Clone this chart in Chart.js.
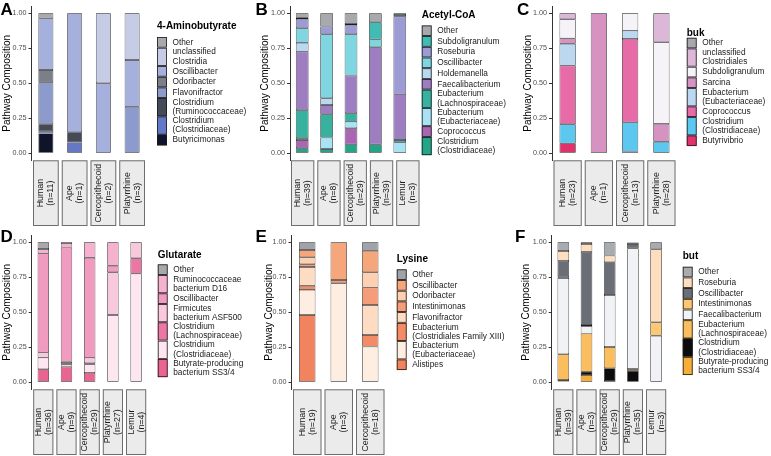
<!DOCTYPE html>
<html>
<head>
<meta charset="utf-8">
<script src="https://cdn.jsdelivr.net/npm/chart.js@4.4.1/dist/chart.umd.min.js"></script>
<style>
  html, body { margin: 0; padding: 0; background: #fff; }
  #wrap { position: relative; width: 771px; height: 456px; overflow: hidden; }
  canvas { position: absolute; }
</style>
</head>
<body>
<div id="wrap">
  <canvas id="pA" width="255" height="228" style="left:0;top:0"></canvas>
  <canvas id="pB" width="255" height="228" style="left:255px;top:0"></canvas>
  <canvas id="pC" width="261" height="228" style="left:510px;top:0"></canvas>
  <canvas id="pD" width="255" height="231" style="left:0;top:225px"></canvas>
  <canvas id="pE" width="255" height="231" style="left:255px;top:225px"></canvas>
  <canvas id="pF" width="261" height="231" style="left:510px;top:225px"></canvas>
</div>
<script>
// ---- data ----
const yTicks = [0, 0.25, 0.5, 0.75, 1];

// A: 4-Aminobutyrate
const aCategories = ['Human', 'Ape', 'Cercopithecoid', 'Platyrrhine'];
const aCounts = ['(n=11)', '(n=1)', '(n=2)', '(n=3)'];
const aSeries = ['Other', 'unclassified\nClostridia', 'Oscillibacter', 'Odoribacter', 'Flavonifractor',
  'Clostridium\n(Ruminococcaceae)', 'Clostridium\n(Clostridiaceae)', 'Butyricimonas'];
const aValues = [
  [0.036, 0, 0, 0],
  [0, 0, 0.5, 0.334],
  [0.369, 0.85, 0.5, 0.333],
  [0.088, 0, 0, 0],
  [0.30, 0, 0, 0.333],
  [0.05, 0.072, 0, 0],
  [0.015, 0.078, 0, 0],
  [0.142, 0, 0, 0]
];

// B: Acetyl-CoA
const bCategories = ['Human', 'Ape', 'Cercopithecoid', 'Platyrrhine', 'Lemur'];
const bCounts = ['(n=39)', '(n=8)', '(n=29)', '(n=39)', '(n=3)'];
const bSeries = ['Other', 'Subdoligranulum', 'Roseburia', 'Oscillibacter', 'Holdemanella', 'Faecalibacterium',
  'Eubacterium\n(Lachnospiraceae)', 'Eubacterium\n(Eubacteriaceae)', 'Coprococcus', 'Clostridium\n(Clostridiaceae)'];
const bValues = [
  [0.031, 0.095, 0.076, 0.064, 0.012],
  [0.009, 0, 0.007, 0.122, 0.012],
  [0.067, 0.055, 0.067, 0, 0.555],
  [0.103, 0.457, 0.295, 0.057, 0],
  [0.064, 0.048, 0, 0, 0],
  [0.419, 0.066, 0.269, 0.693, 0.326],
  [0.2, 0.167, 0.06, 0, 0.016],
  [0.012, 0.081, 0.047, 0, 0.079],
  [0.059, 0, 0.115, 0, 0],
  [0.036, 0.031, 0.064, 0.064, 0]
];

// C: buk
const cCategories = ['Human', 'Ape', 'Cercopithecoid', 'Platyrrhine'];
const cCounts = ['(n=23)', '(n=1)', '(n=13)', '(n=28)'];
const cSeries = ['Other', 'unclassified\nClostridiales', 'Subdoligranulum', 'Sarcina',
  'Eubacterium\n(Eubacteriaceae)', 'Coprococcus', 'Clostridium\n(Clostridiaceae)', 'Butyrivibrio'];
const cValues = [
  [0, 0, 0, 0],
  [0.043, 0, 0, 0.207],
  [0.136, 0, 0.124, 0.583],
  [0.038, 1, 0, 0.127],
  [0.157, 0, 0.059, 0],
  [0.419, 0, 0.596, 0],
  [0.136, 0, 0.209, 0.083],
  [0.071, 0, 0.012, 0]
];

// D: Glutarate
const dCategories = ['Human', 'Ape', 'Cercopithecoid', 'Platyrrhine', 'Lemur'];
const dCounts = ['(n=36)', '(n=9)', '(n=29)', '(n=27)', '(n=4)'];
const dSeries = ['Other', 'Ruminococcaceae\nbacterium D16', 'Oscillibacter', 'Firmicutes\nbacterium ASF500',
  'Clostridium\n(Lachnospiraceae)', 'Clostridium\n(Clostridiaceae)', 'Butyrate-producing\nbacterium SS3/4'];
const dValues = [
  [0.048, 0.005, 0, 0, 0],
  [0.031, 0.033, 0.11, 0.167, 0],
  [0.707, 0.814, 0.714, 0.047, 0],
  [0.038, 0.012, 0.04, 0.305, 0.114],
  [0, 0.01, 0.007, 0, 0.11],
  [0.083, 0.014, 0.062, 0.481, 0.776],
  [0.093, 0.112, 0.067, 0, 0]
];

// E: Lysine
const eCategories = ['Human', 'Ape', 'Cercopithecoid'];
const eCounts = ['(n=19)', '(n=3)', '(n=18)'];
const eSeries = ['Other', 'Oscillibacter', 'Odoribacter', 'Intestinimonas', 'Flavonifractor',
  'Eubacterium\n(Clostridiales Family XIII)', 'Eubacterium\n(Eubacteriaceae)', 'Alistipes'];
const eValues = [
  [0.055, 0, 0.06],
  [0.052, 0.269, 0.154],
  [0.05, 0, 0.11],
  [0.019, 0.024, 0.124],
  [0.134, 0, 0.214],
  [0.03, 0, 0.083],
  [0.179, 0.707, 0.255],
  [0.481, 0, 0]
];

// F: but
const fCategories = ['Human', 'Ape', 'Cercopithecoid', 'Platyrrhine', 'Lemur'];
const fCounts = ['(n=39)', '(n=3)', '(n=29)', '(n=35)', '(n=3)'];
const fSeries = ['Other', 'Roseburia', 'Oscillibacter', 'Intestinimonas', 'Faecalibacterium',
  'Eubacterium\n(Lachnospiraceae)', 'Clostridium\n(Clostridiaceae)', 'Butyrate-producing\nbacterium SS3/4'];
const fValues = [
  [0.062, 0.012, 0.095, 0.012, 0.05],
  [0.071, 0.055, 0.048, 0, 0.521],
  [0.117, 0.523, 0.233, 0.03, 0],
  [0.005, 0.01, 0, 0, 0.096],
  [0.545, 0.052, 0.372, 0.862, 0.333],
  [0.183, 0.272, 0.152, 0.012, 0],
  [0.012, 0.024, 0.09, 0.083, 0],
  [0.005, 0.052, 0.01, 0, 0]
];

// ---- colours (same order as the series) ----
const aColors = ['#a7a9ac', '#c6cce6', '#a5b0dc', '#7b7f88', '#8c9bcb', '#464a56', '#6478c6', '#10142a'];
const bColors = ['#a7a9ac', '#41bcb4', '#9c9bd3', '#7fd5e0', '#b9d9f1', '#9e7ec1', '#38b19f', '#a9e1f5', '#a966b3', '#25a587'];
const cColors = ['#a7a9ac', '#dcb7d7', '#f5f3f7', '#d693c2', '#bcd7f0', '#e76ba6', '#5cc8ef', '#e2326c'];
const dColors = ['#a7a9ac', '#f5b1cd', '#f19bc0', '#f8c8dc', '#ec77a5', '#fde6ef', '#e96590'];
const eColors = ['#a0a4aa', '#f5a67b', '#fcd0b0', '#f59d78', '#fddcc3', '#f38c66', '#feede1', '#f1835f'];
const fColors = ['#a8abb0', '#fddfbf', '#6b6e77', '#fcc874', '#f1f2f5', '#fbbe5e', '#0c0c0c', '#f5ae3c'];

const FONT = '"Liberation Sans", Arial, Helvetica, sans-serif';
Chart.defaults.font.family = FONT;

// strips, legend and panel letter
const decor = {
  id: 'decor',
  afterDraw(chart, args, o) {
    const { ctx, chartArea: ca } = chart;
    const xs = chart.scales.x;
    const pitch = o.stripPitch || (ca.right - ca.left) / o.cats.length;
    ctx.save();

    ctx.font = 'bold 17px ' + FONT;
    ctx.fillStyle = '#000';
    ctx.textAlign = 'left';
    ctx.textBaseline = 'alphabetic';
    ctx.fillText(o.letter, o.letterX, o.letterY);

    // facet strips under the bars
    o.cats.forEach((c, i) => {
      const cx = o.stripPitch ? o.stripLeft + (i + 0.5) * pitch : xs.getPixelForValue(i);
      const w = pitch - 3;
      const x0 = cx - w / 2, y0 = ca.bottom, h = 65.7;
      ctx.fillStyle = '#ebebeb';
      ctx.fillRect(x0, y0, w, h);
      ctx.strokeStyle = '#6e6e6e';
      ctx.lineWidth = 1;
      ctx.strokeRect(x0 + 0.5, y0 + 0.5, w - 1, h - 1);
      ctx.save();
      ctx.translate(cx, y0 + h / 2);
      ctx.rotate(-Math.PI / 2);
      ctx.font = '8.8px ' + FONT;
      ctx.fillStyle = '#1a1a1a';
      ctx.textAlign = 'center';
      ctx.textBaseline = 'middle';
      ctx.fillText(c, 0, -5);
      ctx.fillText(o.counts[i], 0, 5);
      ctx.restore();
    });

    // legend
    ctx.font = 'bold 10px ' + FONT;
    ctx.fillStyle = '#000';
    ctx.textBaseline = 'middle';
    ctx.textAlign = 'left';
    ctx.fillText(o.title, o.legX, o.titleY);
    let y = o.keysTop;
    o.series.forEach((s, i) => {
      const lines = s.split('\n');
      const h = lines.length > 1 ? 18.3 : 10.7;
      ctx.fillStyle = o.colors[i];
      ctx.fillRect(o.legX, y, 10, h);
      ctx.strokeStyle = '#1a1a1a';
      ctx.lineWidth = 0.8;
      ctx.strokeRect(o.legX + 0.5, y + 0.5, 9, h - 1);
      ctx.font = '8.3px ' + FONT;
      ctx.fillStyle = '#1a1a1a';
      const mid = y + h / 2;
      lines.forEach((ln, k) => {
        ctx.fillText(ln, o.legX + 15.5, mid + (k - (lines.length - 1) / 2) * 9.3);
      });
      y += h;
    });
    ctx.restore();
  }
};

function makePanel(id, cats, counts, series, values, colors, o) {
  const cv = document.getElementById(id);
  const W = cv.width, H = cv.height;
  const datasets = series.map((name, i) => ({
    label: name,
    data: values[i].map(v => (v > 0 ? v : null)),
    backgroundColor: colors[i],
    borderColor: '#1e1e1e',
    borderWidth: 0.7,
    borderSkipped: false,
    barPercentage: o.barPct,
    categoryPercentage: 1
  })).reverse();

  new Chart(cv, {
    type: 'bar',
    data: { labels: cats, datasets },
    options: {
      responsive: false,
      animation: false,
      events: [],
      layout: { padding: { left: 0, top: o.top, right: W - o.right, bottom: 0 } },
      plugins: {
        legend: { display: false },
        tooltip: { enabled: false },
        decor: Object.assign({ cats, counts, series, colors }, o)
      },
      scales: {
        x: {
          stacked: true,
          ticks: { display: false },
          grid: { display: false },
          border: { display: false },
          afterFit: s => { s.height = H - o.bottom; s.paddingLeft = 0; s.paddingRight = 0; }
        },
        y: {
          stacked: true,
          min: -0.05,
          max: 1.05,
          afterBuildTicks: s => { s.ticks = yTicks.map(v => ({ value: v })); },
          ticks: {
            callback: v => Number(v).toFixed(2),
            font: { size: 7.2 },
            color: '#4d4d4d',
            padding: 2
          },
          grid: { drawOnChartArea: false, drawTicks: true, tickLength: 3, color: '#333' },
          border: { display: true, color: '#333', width: 1 },
          title: {
            display: true,
            text: 'Pathway Composition',
            font: { size: 10 },
            color: '#000',
            padding: { top: o.titlePad, bottom: 0 }
          },
          afterFit: s => { s.width = o.left; s.paddingTop = 0; s.paddingBottom = 0; }
        }
      }
    },
    plugins: [decor]
  });
}

makePanel('pA', aCategories, aCounts, aSeries, aValues, aColors, {
  letter: 'A', letterX: 0.5, letterY: 14.8, left: 31.5, right: 146.5, top: 6.3, bottom: 160.3,
  titlePad: 1.5, barPct: 0.52, title: '4-Aminobutyrate', legX: 157, titleY: 26.7, keysTop: 37
});
makePanel('pB', bCategories, bCounts, bSeries, bValues, bColors, {
  letter: 'B', letterX: 0.5, letterY: 14.8, left: 35, right: 157, top: 6.3, bottom: 160.3,
  titlePad: 4, barPct: 0.52, title: 'Acetyl-CoA', legX: 166.7, titleY: 15, keysTop: 25.4,
  stripLeft: 34.5, stripPitch: 26.3
});
makePanel('pC', cCategories, cCounts, cSeries, cValues, cColors, {
  letter: 'C', letterX: 7, letterY: 14.8, left: 42, right: 167, top: 6.3, bottom: 160.3,
  titlePad: 12, barPct: 0.52, title: 'buk', legX: 176.7, titleY: 33.3, keysTop: 37.7
});
makePanel('pD', dCategories, dCounts, dSeries, dValues, dColors, {
  letter: 'D', letterX: 0.5, letterY: 17, left: 31.7, right: 147.7, top: 10.3, bottom: 164.3,
  titlePad: 1.5, barPct: 0.49, title: 'Glutarate', legX: 157.7, titleY: 30, keysTop: 39.3
});
makePanel('pE', eCategories, eCounts, eSeries, eValues, eColors, {
  letter: 'E', letterX: 0.5, letterY: 17, left: 36.5, right: 131, top: 10.3, bottom: 164.3,
  titlePad: 8.2, barPct: 0.52, title: 'Lysine', legX: 141.7, titleY: 34.3, keysTop: 44.3
});
makePanel('pF', fCategories, fCounts, fSeries, fValues, fColors, {
  letter: 'F', letterX: 5, letterY: 17, left: 41.7, right: 157.7, top: 10.3, bottom: 164.3,
  titlePad: 10.7, barPct: 0.5, title: 'but', legX: 172.7, titleY: 31.7, keysTop: 41.7
});
</script>
</body>
</html>
